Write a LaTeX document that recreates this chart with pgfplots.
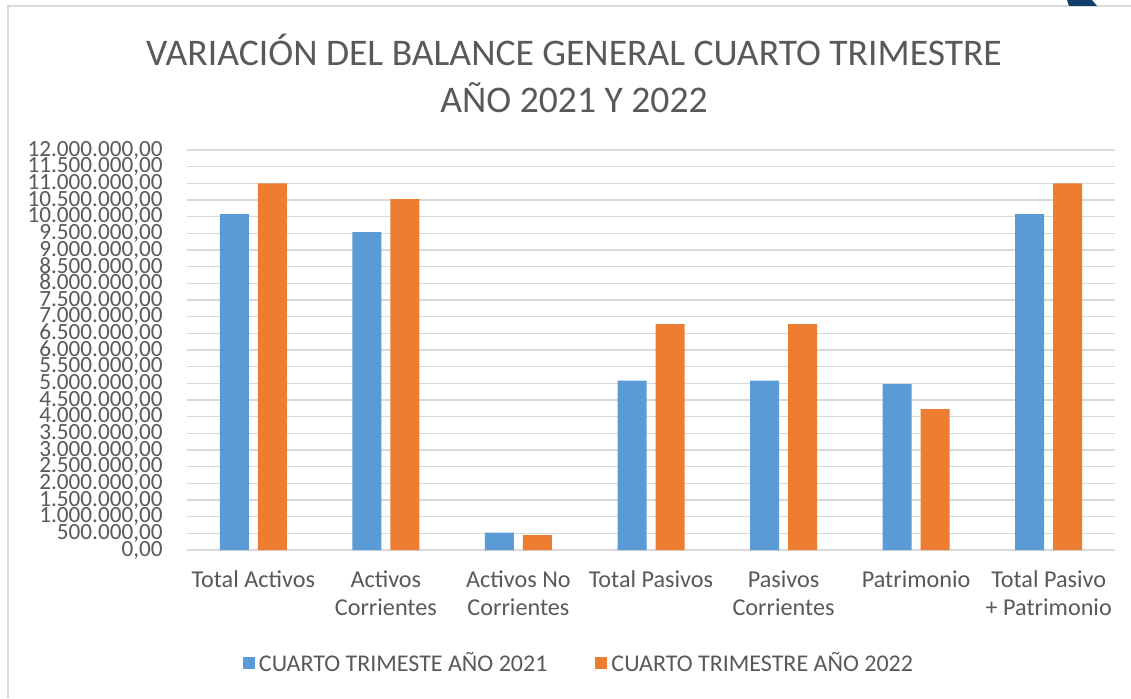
\documentclass[border=0pt]{standalone}
\usepackage{pgfplots}
\pgfplotsset{compat=1.18}
\usepackage{fontspec}
\setmainfont{Carlito}
\definecolor{serblue}{HTML}{5B9BD5}
\definecolor{serorange}{HTML}{ED7D31}
\definecolor{txtgray}{HTML}{595959}
\definecolor{gridgray}{HTML}{D9D9D9}
\definecolor{cornerblue}{HTML}{0F3E6B}

\begin{document}
\begin{tikzpicture}
\useasboundingbox (0,0) rectangle (565.5pt,349pt);
\fill[white] (0,0) rectangle (565.5pt,349pt);
% chart frame and cropped corner decoration
\draw[gridgray, line width=0.6pt] (4pt,0) -- (4pt,346pt) -- (565.5pt,346pt);
\fill[cornerblue] (533.5pt,349pt) -- (546pt,349pt) -- (548.5pt,346pt) -- (534.5pt,346pt) -- cycle;

\node[txtgray, align=center, font=\fontsize{18.8}{23.5}\selectfont] at (287pt,312.5pt)
  {VARIACIÓN DEL BALANCE GENERAL CUARTO TRIMESTRE\\AÑO 2021 Y 2022};

\begin{axis}[
    at={(93.5pt,74pt)}, anchor=south west,
    scale only axis,
    width=464pt, height=200pt,
    xmin=-0.5, xmax=6.5,
    ymin=0, ymax=12000000,
    ybar=4.5pt, bar width=14.5pt,
    axis line style={draw=none},
    major tick length=0pt,
    xtick={0,1,2,3,4,5,6},
    xticklabels={Total Activos, Activos\\Corrientes, Activos No\\Corrientes,
      Total Pasivos, Pasivos\\Corrientes, Patrimonio, Total Pasivo\\+ Patrimonio},
    xticklabel style={align=center, inner sep=0pt, yshift=-10pt, text=txtgray,
      font=\fontsize{12.1}{14.3}\selectfont},
    ytick distance=500000,
    scaled y ticks=false,
    yticklabel style={anchor=east, inner sep=0pt, xshift=-12pt, text=txtgray,
      font=\fontsize{11.6}{11.6}\selectfont,
      /pgf/number format/.cd, fixed, fixed zerofill, precision=2,
      1000 sep={.}, dec sep={,}, assume math mode=true},
    ymajorgrids,
    grid style={gridgray, line width=0.8pt},
    legend columns=2,
    legend style={at={(axis description cs:0.4235,-0.2825)}, anchor=center,
      draw=none, fill=none, font=\fontsize{12}{14}\selectfont, text=txtgray,
      /tikz/every even column/.append style={column sep=22pt}},
    legend image code/.code={\fill[#1] (0pt,-3pt) rectangle (6pt,3pt);},
]
\addplot[fill=serblue, draw=none] coordinates {
    (0, 10080000) (1, 9540000) (2, 520000) (3, 5080000)
    (4, 5080000) (5, 4980000) (6, 10080000)
};
\addplot[fill=serorange, draw=none] coordinates {
    (0, 11000000) (1, 10530000) (2, 450000) (3, 6780000)
    (4, 6780000) (5, 4230000) (6, 11000000)
};
\legend{CUARTO TRIMESTE AÑO 2021, CUARTO TRIMESTRE AÑO 2022}
\end{axis}
\end{tikzpicture}
\end{document}
